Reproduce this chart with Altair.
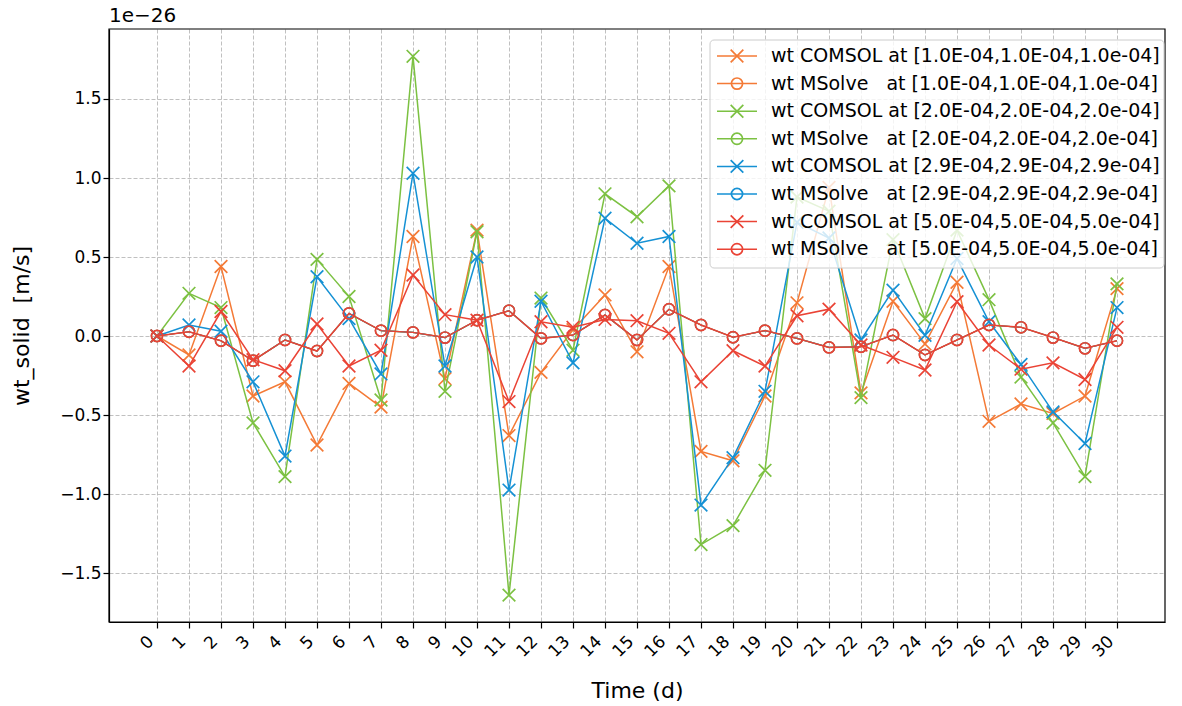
import altair as alt
import pandas as pd

# Time axis (days)
days = list(range(31))

# wt_solid values, in units of 1e-26 m/s
comsol_1e4 = [0.0, -0.12, 0.44, -0.38, -0.29, -0.69, -0.30, -0.45, 0.63, -0.27,
              0.67, -0.63, -0.23, 0.04, 0.26, -0.10, 0.44, -0.73, -0.79, -0.38,
              0.21, 0.94, -0.36, 0.22, -0.05, 0.34, -0.54, -0.43, -0.49, -0.38, 0.30]
comsol_2e4 = [0.0, 0.27, 0.18, -0.55, -0.89, 0.485, 0.25, -0.405, 1.77, -0.35,
              0.66, -1.64, 0.24, -0.09, 0.90, 0.755, 0.95, -1.32, -1.20, -0.85,
              0.88, 0.79, -0.39, 0.61, 0.11, 0.67, 0.23, -0.26, -0.55, -0.89, 0.33]
comsol_29e4 = [0.0, 0.07, 0.03, -0.29, -0.76, 0.375, 0.11, -0.24, 1.03, -0.19,
               0.50, -0.975, 0.22, -0.17, 0.745, 0.587, 0.63, -1.07, -0.77, -0.35,
               0.72, 0.62, -0.025, 0.29, 0.005, 0.49, 0.09, -0.18, -0.48, -0.68, 0.18]
comsol_5e4 = [0.0, -0.19, 0.155, -0.15, -0.22, 0.076, -0.19, -0.09, 0.386, 0.135,
              0.10, -0.415, 0.09, 0.055, 0.105, 0.097, 0.017, -0.29, -0.093, -0.19,
              0.128, 0.17, -0.057, -0.135, -0.215, 0.217, -0.057, -0.21, -0.17, -0.275, 0.055]
# MSolve gives the same curve at all four probe points
msolve = [0.0, 0.027, -0.03, -0.156, -0.025, -0.095, 0.143, 0.034, 0.023, -0.01,
          0.10, 0.16, -0.015, 0.006, 0.133, -0.025, 0.169, 0.07, -0.008, 0.034,
          -0.015, -0.072, -0.068, 0.006, -0.12, -0.025, 0.07, 0.055, -0.01, -0.078, -0.03]

labels = [
    "wt COMSOL at [1.0E-04,1.0E-04,1.0e-04]",
    "wt MSolve\u00a0\u00a0 at [1.0E-04,1.0E-04,1.0e-04]",
    "wt COMSOL at [2.0E-04,2.0E-04,2.0e-04]",
    "wt MSolve\u00a0\u00a0 at [2.0E-04,2.0E-04,2.0e-04]",
    "wt COMSOL at [2.9E-04,2.9E-04,2.9e-04]",
    "wt MSolve\u00a0\u00a0 at [2.9E-04,2.9E-04,2.9e-04]",
    "wt COMSOL at [5.0E-04,5.0E-04,5.0e-04]",
    "wt MSolve\u00a0\u00a0 at [5.0E-04,5.0E-04,5.0e-04]",
]
series_values = [comsol_1e4, msolve, comsol_2e4, msolve, comsol_29e4, msolve, comsol_5e4, msolve]
colors = ["#f47a36", "#f47a36", "#7cc142", "#7cc142", "#1591d4", "#1591d4", "#ea4335", "#ea4335"]

X_PATH = "M-1,-1L1,1M-1,1L1,-1"
CIRCLE = "circle"
markers = [X_PATH, CIRCLE] * 4
marker_size = {X_PATH: 160, CIRCLE: 125}

FONT = "DejaVu Sans"
W, H = 1056, 593

xscale = alt.Scale(domain=[-1.5, 31.5], nice=False, zero=False)
yscale = alt.Scale(domain=[-1.81, 1.943], nice=False, zero=False)

x_axis = alt.Axis(values=days, labelAngle=315, labelAlign="right", labelBaseline="bottom",
                  labelPadding=17, title="Time (d)", titleX=W / 2, titleY=75,
                  titleBaseline="alphabetic", titleAnchor="middle")
y_axis = alt.Axis(values=[-1.5, -1.0, -0.5, 0.0, 0.5, 1.0, 1.5], format=".1f",
                  title="wt_solid\u00a0 [m/s]", titleX=-81, titleY=H / 2,
                  titleAngle=270, titleBaseline="alphabetic", titleAlign="center")

x_enc = alt.X("day:Q", scale=xscale, axis=x_axis)
y_enc = alt.Y("value:Q", scale=yscale, axis=y_axis)

layers = []
n = len(labels)
for i, (lab, vals, col, mk) in enumerate(zip(labels, series_values, colors, markers)):
    df = pd.DataFrame({"day": days, "value": vals})
    # identical MSolve curves sit under the last one; keep their strokes inside it
    covered = (mk == CIRCLE and i < n - 1)
    lw = 1.1 if covered else 1.5
    mw = 1.2 if covered else 1.7
    line = alt.Chart(df).mark_line(color=col, strokeWidth=lw).encode(x=x_enc, y=y_enc)
    pts = alt.Chart(df).mark_point(shape=mk, size=marker_size[mk], filled=False,
                                   color=col, strokeWidth=mw, opacity=1).encode(x=x_enc, y=y_enc)
    layers += [line, pts]

# Plot frame
frame = alt.Chart(pd.DataFrame({"k": [0]})).mark_rect(
    fill=None, fillOpacity=0, stroke="black", strokeWidth=1.2
).encode(x=alt.value(0), x2=alt.value(W), y=alt.value(0), y2=alt.value(H))

# Legend box, drawn in pixel units inside the plot area
legend_layers = [
    alt.Chart(pd.DataFrame({"k": [0]})).mark_rect(
        fill="white", fillOpacity=0.8, stroke="#cccccc", strokeWidth=1, cornerRadius=4
    ).encode(x=alt.value(601), x2=alt.value(1055), y=alt.value(11), y2=alt.value(239))
]
row_gap = 27.6
for i, (lab, col, mk) in enumerate(zip(labels, colors, markers)):
    ly = 27 + row_gap * i
    one = pd.DataFrame({"label": [lab]})
    legend_layers.append(
        alt.Chart(one).mark_rule(color=col, strokeWidth=1.5).encode(
            x=alt.value(608), x2=alt.value(648), y=alt.value(ly)))
    legend_layers.append(
        alt.Chart(one).mark_point(shape=mk, size=marker_size[mk], filled=False, color=col,
                                  strokeWidth=1.7, opacity=1).encode(
            x=alt.value(628), y=alt.value(ly)))
    legend_layers.append(
        alt.Chart(one).mark_text(align="left", baseline="middle", font=FONT, fontSize=19,
                                 color="black").encode(
            x=alt.value(662), y=alt.value(ly), text="label:N"))

offset = alt.Chart(pd.DataFrame({"t": ["1e\u221226"]})).mark_text(
    align="left", baseline="alphabetic", font=FONT, fontSize=20, color="black"
).encode(x=alt.value(0), y=alt.value(-7), text="t:N")

chart = alt.layer(*layers, frame, *legend_layers, offset).properties(
    width=W, height=H,
    background="white",
    autosize=alt.AutoSizeParams(type="none"),
    padding={"left": 109, "top": 29, "right": 17, "bottom": 84},
).configure_view(
    stroke=None
).configure_axis(
    grid=True, gridDash=[4, 2], gridColor="#b0b0b0", gridWidth=0.8,
    domainColor="black", domainWidth=1.2, tickColor="black", tickSize=6, tickWidth=1.2,
    labelFont=FONT, labelFontSize=17, labelColor="black",
    titleFont=FONT, titleFontSize=22, titleFontWeight="normal", titleColor="black",
)

chart.save("out.html", embed_options={"renderer": "svg", "actions": False})
